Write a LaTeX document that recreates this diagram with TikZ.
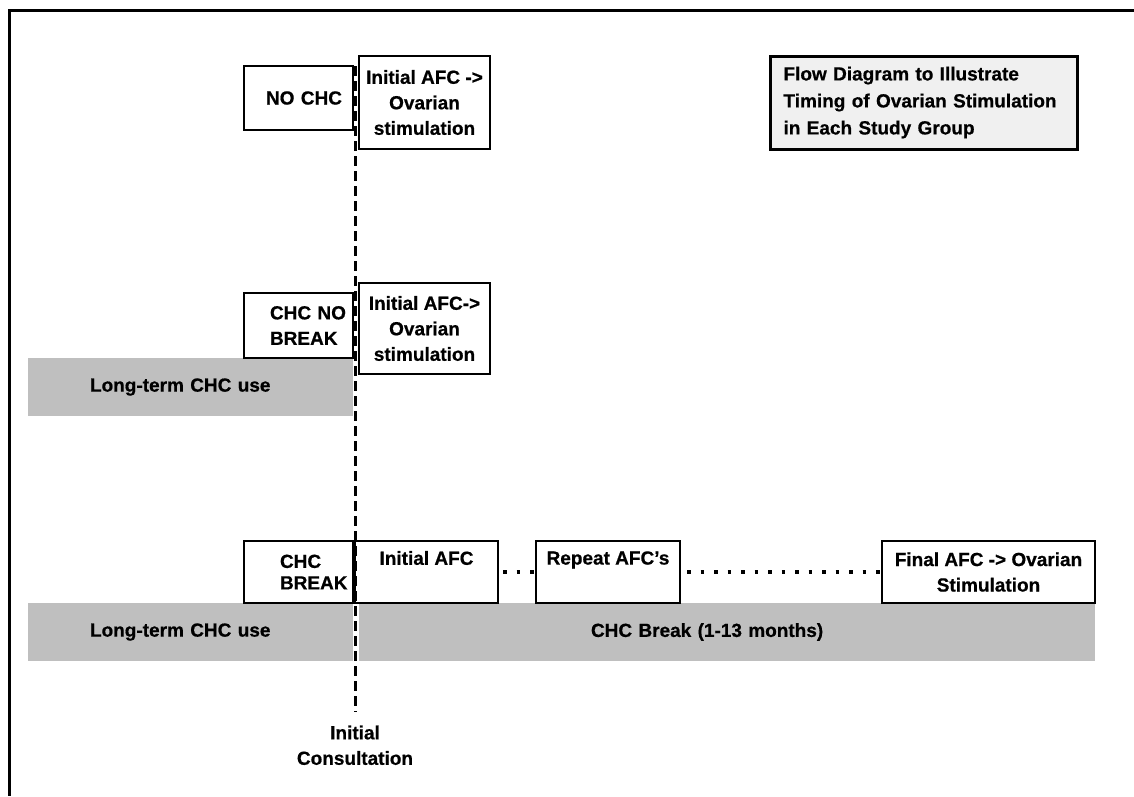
\documentclass[tikz,border=0pt]{standalone}
\usepackage{fontspec}
\setmainfont{Liberation Sans}[BoldFeatures={FakeBold=0.6}]
\usetikzlibrary{positioning}
\definecolor{barGray}{RGB}{191,191,191}
\definecolor{titleGray}{RGB}{240,240,240}

\begin{document}
\begin{tikzpicture}[x=1pt, y=-1pt,
  every node/.style={font=\fontsize{19}{25.5}\selectfont\bfseries},
  box/.style={draw, line width=2pt, fill=white, align=center, inner sep=0pt},
  bar/.style={fill=barGray, inner sep=0pt, align=left},
  dots/.style={line width=3.5pt, dash pattern=on 3.5pt off 10pt}]
  \useasboundingbox (0,0) rectangle (1134,796);
  % frame, only top and left edges visible
  \draw[line width=3pt] (1134,10) -- (9,10) -- (9,796);

  % long-term use bars
  \node[bar, minimum width=325, minimum height=58, text width=201] (useB) at (190.5,387) {Long-term CHC use};
  \node[bar, minimum width=325, minimum height=58, text width=201] (useC) at (190.5,632) {Long-term CHC use};
  \node[bar, minimum width=736, minimum height=58, text width=272] (brk) at (727,632) {CHC Break (1-13 months)};

  % group NO CHC
  \node[box, minimum width=109, minimum height=64, text width=87, align=right] (noA) at (298.5,98) {NO CHC};
  \node[box, minimum width=131, minimum height=93] (afcA) at (424.5,102.5) {Initial AFC ->\\Ovarian\\stimulation};

  % group CHC NO BREAK
  \node[box, minimum width=109, minimum height=65, text width=57, align=left] (noB) at (298.5,325.5) {\mbox{CHC NO}\\\mbox{BREAK}};
  \node[box, minimum width=131, minimum height=91] (afcB) at (424.5,328.5) {Initial AFC->\\Ovarian\\stimulation};

  % group CHC BREAK
  \node[box, minimum width=109, minimum height=62, text width=37, align=left] (brkC) at (298.5,572) {\mbox{CHC}\\[-4pt]\mbox{BREAK}};
  \node[box, minimum width=143, minimum height=62] (afcC) at (426.5,572) {Initial AFC\\[-5pt]\strut};
  \node[box, minimum width=144, minimum height=62] (rep) at (608,572) {Repeat AFC’s\\[-5pt]\strut};
  \node[box, minimum width=213, minimum height=62] (fin) at (988.5,572) {Final AFC -> Ovarian\\Stimulation};
  \draw[dots] ([xshift=4pt]afcC.east) -- (rep.west);
  \draw[dots] ([xshift=6pt]rep.east) -- (fin.west);

  % title
  \node[box, fill=titleGray, line width=3pt, minimum width=307, minimum height=93,
        text width=280, align=left] (title) at (923.5,102.5)
        {Flow Diagram to Illustrate\\[1.5pt]Timing of Ovarian Stimulation\\[1.5pt]in Each Study Group};

  % initial consultation
  \coordinate (icTop) at (355,66);
  \coordinate (icBot) at (355,712);
  \draw[line width=3pt, dash pattern=on 10pt off 5pt] (icTop) -- (icBot);
  \node[align=center, anchor=north] (ic) at (355,722) {Initial\\Consultation};
\end{tikzpicture}
\end{document}
